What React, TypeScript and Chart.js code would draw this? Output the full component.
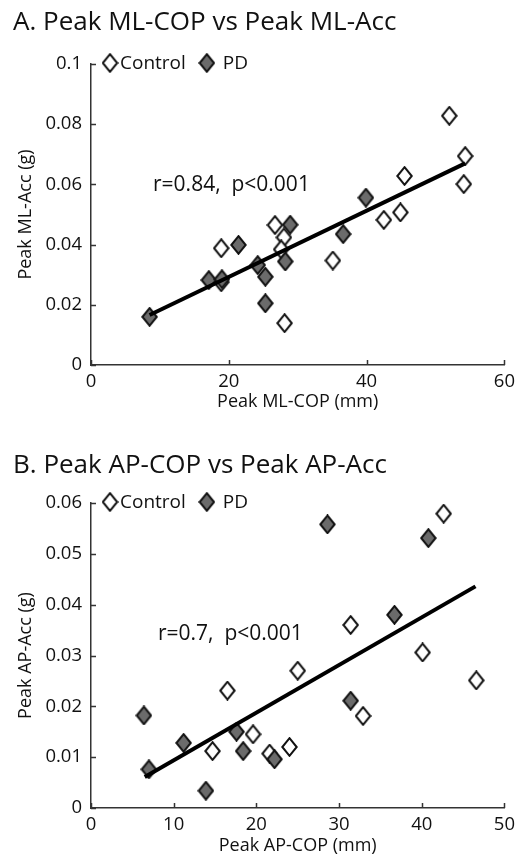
import React, { useEffect, useRef } from "react";
import { Chart, registerables } from "chart.js";

Chart.register(...registerables);

const FONT = "'Open Sans', 'Noto Sans', sans-serif";
const TEXT = "#111";

// ---------- Panel A: Peak ML-COP vs Peak ML-Acc ----------
const mlXTicks = [0, 20, 40, 60];
const mlYTicks = [0, 0.02, 0.04, 0.06, 0.08, 0.1];
const mlControlX = [52.0, 54.3, 54.1, 45.5, 44.9, 42.5, 35.1, 26.7, 28.0, 27.6, 18.9, 18.9, 28.1];
const mlControlY = [0.0828, 0.0694, 0.0601, 0.0628, 0.0507, 0.0482, 0.0347, 0.0465, 0.0424, 0.0384, 0.0388, 0.0275, 0.0139];
const mlPdX = [8.5, 17.1, 19.0, 21.4, 24.2, 25.3, 25.3, 28.2, 28.9, 36.6, 39.9];
const mlPdY = [0.016, 0.0282, 0.0285, 0.0399, 0.0332, 0.0293, 0.0205, 0.0344, 0.0466, 0.0435, 0.0556];
const mlFitX = [8.5, 54.3];
const mlFitY = [0.0166, 0.067];
const mlStat = "r=0.84,  p<0.001";
const mlStatAt = [9.0, 0.0598];

// ---------- Panel B: Peak AP-COP vs Peak AP-Acc ----------
const apXTicks = [0, 10, 20, 30, 40, 50];
const apYTicks = [0, 0.01, 0.02, 0.03, 0.04, 0.05, 0.06];
const apControlX = [42.65, 31.4, 40.1, 46.6, 25.0, 16.5, 32.9, 19.6, 14.7, 24.0, 21.6];
const apControlY = [0.0579, 0.036, 0.0306, 0.0251, 0.027, 0.0231, 0.0181, 0.0145, 0.0112, 0.012, 0.0107];
const apPdX = [28.6, 40.8, 36.7, 31.4, 6.4, 11.2, 17.6, 18.4, 22.2, 7.0, 13.9];
const apPdY = [0.0558, 0.0531, 0.038, 0.0211, 0.0182, 0.0128, 0.015, 0.0112, 0.0096, 0.0076, 0.0034];
const apFitX = [6.5, 46.5];
const apFitY = [0.0061, 0.0436];
const apStat = "r=0.7,  p<0.001";
const apStatAt = [8.1, 0.0343];

const seriesNames = ["Control", "PD"];

function makeDiamond(fill: string): HTMLCanvasElement {
  const w = 17;
  const h = 20;
  const c = document.createElement("canvas");
  c.width = w;
  c.height = h;
  const ctx = c.getContext("2d")!;
  ctx.beginPath();
  ctx.moveTo(w / 2, 1.2);
  ctx.lineTo(w - 1.3, h / 2);
  ctx.lineTo(w / 2, h - 1.2);
  ctx.lineTo(1.3, h / 2);
  ctx.closePath();
  ctx.fillStyle = fill;
  ctx.fill();
  ctx.lineWidth = 2;
  ctx.strokeStyle = "#111";
  ctx.stroke();
  return c;
}

const zip = (xs: number[], ys: number[]) => xs.map((x, i) => ({ x, y: ys[i] }));

const fmt = (v: number) => String(Number(v.toFixed(3)));

interface Panel {
  title: string;
  xTitle: string;
  yTitle: string;
  xTicks: number[];
  yTicks: number[];
  cx: number[];
  cy: number[];
  px: number[];
  py: number[];
  fx: number[];
  fy: number[];
  stat: string;
  statAt: number[];
  height: number;
  titlePadTop: number;
  titlePadBottom: number;
  xAxisHeight: number;
  xTitlePadBottom: number;
}

const panels: Panel[] = [
  {
    title: "A. Peak ML-COP vs Peak ML-Acc",
    xTitle: "Peak ML-COP (mm)",
    yTitle: "Peak ML-Acc (g)",
    xTicks: mlXTicks,
    yTicks: mlYTicks,
    cx: mlControlX,
    cy: mlControlY,
    px: mlPdX,
    py: mlPdY,
    fx: mlFitX,
    fy: mlFitY,
    stat: mlStat,
    statAt: mlStatAt,
    height: 430,
    titlePadTop: 7.4,
    titlePadBottom: 25.4,
    xAxisHeight: 65,
    xTitlePadBottom: 17.7,
  },
  {
    title: "B. Peak AP-COP vs Peak AP-Acc",
    xTitle: "Peak AP-COP (mm)",
    yTitle: "Peak AP-Acc (g)",
    xTicks: apXTicks,
    yTicks: apYTicks,
    cx: apControlX,
    cy: apControlY,
    px: apPdX,
    py: apPdY,
    fx: apFitX,
    fy: apFitY,
    stat: apStat,
    statAt: apStatAt,
    height: 429,
    titlePadTop: 19.8,
    titlePadBottom: 22.0,
    xAxisHeight: 51,
    xTitlePadBottom: 2.2,
  },
];

function PanelChart({ p }: { p: Panel }) {
  const ref = useRef<HTMLCanvasElement | null>(null);
  useEffect(() => {
    if (!ref.current) return;
    const openD = makeDiamond("#ffffff");
    const fillD = makeDiamond("#6b6b6b");

    const decor = {
      id: "decor",
      afterDraw(chart: any) {
        const ctx = chart.ctx as CanvasRenderingContext2D;
        const area = chart.chartArea;
        const xs = chart.scales.x;
        const ys = chart.scales.y;
        ctx.save();
        // inward tick marks
        ctx.strokeStyle = "#333";
        ctx.lineWidth = 1.5;
        ctx.beginPath();
        for (const t of xs.ticks) {
          const px = Math.round(xs.getPixelForValue(t.value)) + 0.5;
          ctx.moveTo(px, area.bottom);
          ctx.lineTo(px, area.bottom - 5);
        }
        for (const t of ys.ticks) {
          const py = Math.round(ys.getPixelForValue(t.value)) + 0.5;
          ctx.moveTo(area.left, py);
          ctx.lineTo(area.left + 5, py);
        }
        ctx.stroke();
        // statistics text
        ctx.fillStyle = TEXT;
        ctx.font = `21px ${FONT}`;
        ctx.textAlign = "left";
        ctx.textBaseline = "middle";
        ctx.fillText(p.stat, xs.getPixelForValue(p.statAt[0]), ys.getPixelForValue(p.statAt[1]));
        // legend inside the axes, top-left
        ctx.font = `19px ${FONT}`;
        const ly = area.top - 1;
        let lx = area.left + 19;
        ctx.drawImage(openD, lx - openD.width / 2, ly - openD.height / 2);
        ctx.fillText(seriesNames[0], lx + 10, ly + 1);
        const w0 = ctx.measureText(seriesNames[0]).width;
        lx = lx + 10 + w0 + 21;
        ctx.drawImage(fillD, lx - fillD.width / 2, ly - fillD.height / 2);
        ctx.fillText(seriesNames[1], lx + 16, ly + 1);
        ctx.restore();
      },
    };

    const chart = new Chart(ref.current, {
      type: "scatter",
      data: {
        datasets: [
          {
            type: "line",
            label: "fit",
            data: zip(p.fx, p.fy),
            borderColor: "#000",
            borderWidth: 4,
            pointRadius: 0,
            showLine: true,
            fill: false,
          } as any,
          {
            label: seriesNames[1],
            data: zip(p.px, p.py),
            pointStyle: fillD,
            pointRadius: 8,
          },
          {
            label: seriesNames[0],
            data: zip(p.cx, p.cy),
            pointStyle: openD,
            pointRadius: 8,
          },
        ],
      },
      options: {
        animation: false,
        responsive: false,
        devicePixelRatio: 1,
        layout: { padding: { left: 13, right: 15, top: 0, bottom: 0 } },
        plugins: {
          legend: { display: false },
          tooltip: { enabled: false },
          title: {
            display: true,
            text: p.title,
            align: "start",
            color: TEXT,
            font: { family: FONT, size: 26, weight: "normal" },
            padding: { top: p.titlePadTop, bottom: p.titlePadBottom },
          },
        },
        scales: {
          x: {
            type: "linear",
            min: p.xTicks[0],
            max: p.xTicks[p.xTicks.length - 1],
            afterBuildTicks: (s: any) => {
              s.ticks = p.xTicks.map((v) => ({ value: v }));
            },
            afterFit: (s: any) => {
              s.height = p.xAxisHeight;
            },
            grid: { display: true, drawOnChartArea: false, drawTicks: false },
            border: { display: true, color: "#333", width: 1.5 },
            ticks: {
              color: TEXT,
              font: { family: FONT, size: 18.5 },
              padding: 6,
              maxRotation: 0,
              callback: (v: any) => fmt(Number(v)),
            },
            title: {
              display: true,
              text: p.xTitle,
              color: TEXT,
              font: { family: FONT, size: 18 },
              padding: { top: 0, bottom: p.xTitlePadBottom },
            },
          },
          y: {
            type: "linear",
            min: p.yTicks[0],
            max: p.yTicks[p.yTicks.length - 1],
            afterBuildTicks: (s: any) => {
              s.ticks = p.yTicks.map((v) => ({ value: v }));
            },
            afterFit: (s: any) => {
              s.width = 78;
            },
            grid: { display: true, drawOnChartArea: false, drawTicks: false },
            border: { display: true, color: "#333", width: 1.5 },
            ticks: {
              color: TEXT,
              font: { family: FONT, size: 18.5 },
              padding: 9,
              callback: (v: any) => fmt(Number(v)),
            },
            title: {
              display: true,
              text: p.yTitle,
              color: TEXT,
              font: { family: FONT, size: 18 },
              padding: { top: 2.2, bottom: 0 },
            },
          },
        },
      },
      plugins: [decor],
    } as any);
    return () => chart.destroy();
  }, [p]);
  return (
    <div style={{ width: 521, height: p.height, position: "relative" }}>
      <canvas ref={ref} width={521} height={p.height} style={{ display: "block" }} />
    </div>
  );
}

export default function App() {
  return (
    <div style={{ position: "absolute", left: 0, top: 0, width: 521, height: 859, background: "#fff" }}>
      {panels.map((p) => (
        <PanelChart key={p.title} p={p} />
      ))}
    </div>
  );
}
